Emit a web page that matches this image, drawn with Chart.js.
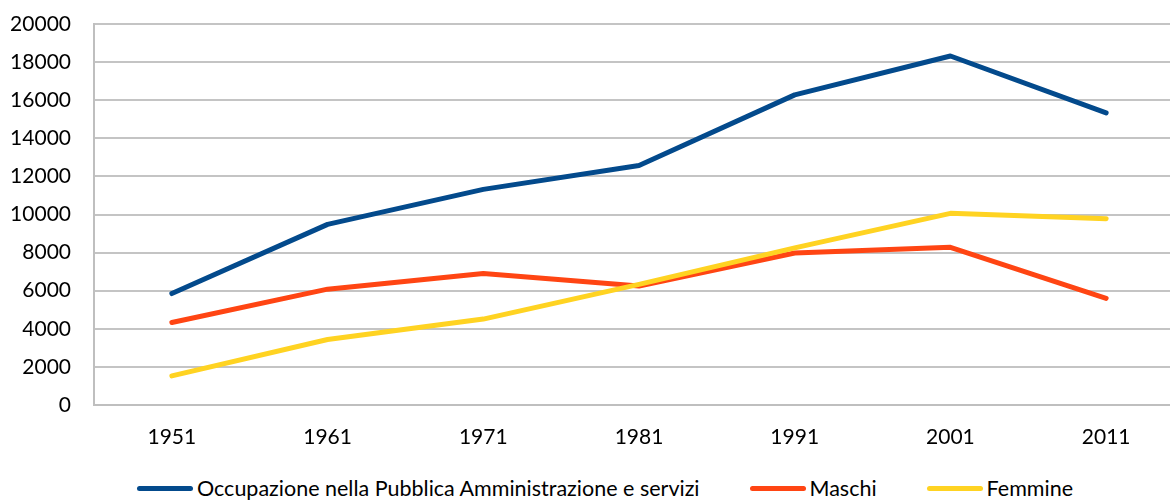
<!DOCTYPE html>
<html>
<head>
<meta charset="utf-8">
<script src="https://cdn.jsdelivr.net/npm/chart.js@4"></script>
<style>
  html, body { margin: 0; padding: 0; background: #fff; overflow: hidden; }
  #wrap { position: relative; width: 1200px; height: 501px; }
  #box { width: 1200px; height: 460px; }
  #legend {
    position: absolute; left: 0; top: 476px; width: 1210px;
    display: flex; justify-content: center; gap: 50px;
    font-family: Lato, "Open Sans", sans-serif; font-size: 21.5px; line-height: 24px; color: #000;
  }
  .item { display: flex; align-items: center; white-space: nowrap; }
  .swatch { width: 56px; height: 5px; border-radius: 3px; margin-right: 4px; }
</style>
</head>
<body>
<div id="wrap">
  <div id="box"><canvas id="chart"></canvas></div>
  <div id="legend"></div>
</div>
<script>
// dati
const anni = ['1951', '1961', '1971', '1981', '1991', '2001', '2011'];
const occupazionePA = [5850, 9480, 11320, 12570, 16280, 18320, 15330];
const maschi = [4330, 6080, 6900, 6250, 7980, 8280, 5600];
const femmine = [1530, 3440, 4510, 6330, 8250, 10060, 9780];
const tickY = { min: 0, max: 20000, step: 2000 };

const FONT = 'Lato, "Open Sans", sans-serif';

// order: la serie gialla va disegnata sopra le altre
const serie = [
    { label: 'Occupazione nella Pubblica Amministrazione e servizi', data: occupazionePA, color: '#034a8c', order: 3 },
    { label: 'Maschi', data: maschi, color: '#ff4513', order: 2 },
    { label: 'Femmine', data: femmine, color: '#ffd322', order: 1 }
];

const grafico = new Chart(document.getElementById('chart'), {
    type: 'line',
    data: {
        labels: anni,
        datasets: serie.map(s => ({
            label: s.label,
            data: s.data,
            borderColor: s.color,
            backgroundColor: s.color,
            borderWidth: 5,
            borderCapStyle: 'round',
            borderJoinStyle: 'round',
            pointRadius: 0,
            tension: 0,
            order: s.order
        }))
    },
    options: {
        responsive: true,
        maintainAspectRatio: false,
        animation: false,
        layout: { padding: { top: 24, right: 16, left: 0, bottom: 0 } },
        plugins: {
            tooltip: { enabled: false },
            legend: { display: false }
        },
        scales: {
            x: {
                offset: true,
                afterFit: (scale) => { scale.height = 55; },
                grid: { display: false, drawTicks: false },
                border: { display: true, color: '#bfbfbf', width: 2 },
                ticks: { color: '#000', font: { family: FONT, size: 21 }, padding: 20 }
            },
            y: {
                min: tickY.min,
                max: tickY.max,
                afterFit: (scale) => { scale.width = 94; scale.paddingTop = 0; scale.paddingBottom = 0; },
                grid: { color: '#c4c4c4', lineWidth: 2, drawTicks: false },
                border: { display: true, color: '#bfbfbf', width: 2 },
                ticks: {
                    stepSize: tickY.step,
                    color: '#000',
                    font: { family: FONT, size: 21 },
                    padding: 23,
                    callback: v => String(v)
                }
            }
        }
    }
});

// legenda HTML costruita dai dataset
const legenda = document.getElementById('legend');
grafico.data.datasets.forEach(ds => {
    const item = document.createElement('div');
    item.className = 'item';
    item.innerHTML = `<span class="swatch" style="background:${ds.borderColor}"></span>${ds.label}`;
    legenda.appendChild(item);
});
</script>
</body>
</html>
